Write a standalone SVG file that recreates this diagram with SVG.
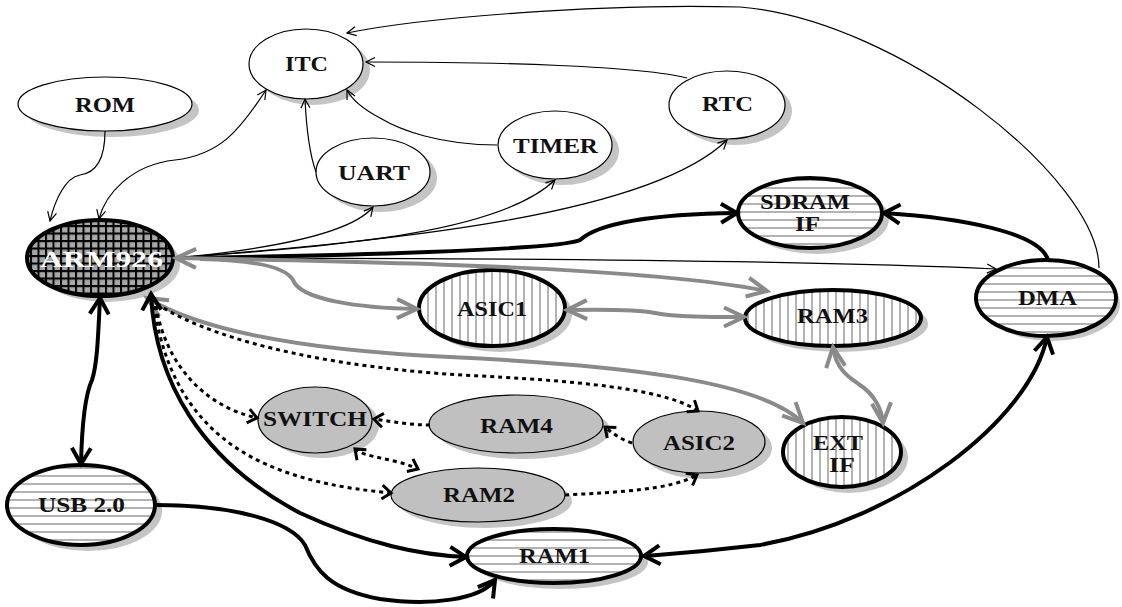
<svg xmlns="http://www.w3.org/2000/svg" width="1122" height="607" viewBox="0 0 1122 607">
<style>
.bg{fill:#fff}
.sh{fill:#c4c4c4}
.thin{stroke:#000;stroke-width:1.2}
.thick{stroke:#000;stroke-width:4}
.white{fill:#fff}
.gfill{fill:#c0c0c0}
.t{font-family:"Liberation Serif","Times New Roman",serif;font-weight:bold;font-size:21px;fill:#111;text-anchor:middle}
.tw{font-family:"Liberation Serif","Times New Roman",serif;font-weight:bold;font-size:24px;fill:#fff;text-anchor:middle}
.c{fill:none}
.cthin{stroke:#000;stroke-width:1.2}
.cblk{stroke:#000;stroke-width:4}
.cgray{stroke:#8a8a8a;stroke-width:4}
.cdot{stroke:#000;stroke-width:3;stroke-dasharray:4 4}
</style>
<defs>
<pattern id="hH" patternUnits="userSpaceOnUse" width="8" height="8"><rect width="8" height="8" fill="#fff"/><line x1="0" y1="4" x2="8" y2="4" stroke="#a0a0a0" stroke-width="1.6"/></pattern>
<pattern id="hV" patternUnits="userSpaceOnUse" width="8" height="8"><rect width="8" height="8" fill="#fff"/><line x1="4" y1="0" x2="4" y2="8" stroke="#a0a0a0" stroke-width="1.6"/></pattern>
<pattern id="grid" patternUnits="userSpaceOnUse" width="7.5" height="7.5"><rect width="7.5" height="7.5" fill="#a8a8a8"/><path d="M0,1 H7.5 M1,0 V7.5" stroke="#000" stroke-width="2"/></pattern>
<marker id="aThin" markerUnits="userSpaceOnUse" markerWidth="12" markerHeight="12" refX="10" refY="6" orient="auto-start-reverse" overflow="visible"><path d="M1,1.5 L10,6 L1,10.5" fill="none" stroke="#000" stroke-width="1.2"/></marker>
<marker id="aBlk" markerUnits="userSpaceOnUse" markerWidth="22" markerHeight="22" refX="18" refY="11" orient="auto-start-reverse" overflow="visible"><path d="M2,1.5 L18,11 L2,20.5" fill="none" stroke="#000" stroke-width="4" stroke-linejoin="miter"/></marker>
<marker id="aGray" markerUnits="userSpaceOnUse" markerWidth="26" markerHeight="22" refX="22" refY="11" orient="auto-start-reverse" overflow="visible"><path d="M2,1.5 L22,11 L2,20.5" fill="none" stroke="#8a8a8a" stroke-width="4"/></marker>
<marker id="aDot" markerUnits="userSpaceOnUse" markerWidth="14" markerHeight="18" refX="11" refY="9" orient="auto-start-reverse" overflow="visible"><path d="M2,2 L11,9 L2,16" fill="none" stroke="#000" stroke-width="3"/></marker>
</defs>
<rect class="bg" x="0" y="0" width="1122" height="607"/>

<g id="node-itc"><ellipse class="sh" cx="313" cy="70" rx="57" ry="35"/><ellipse class="white thin" cx="306" cy="64" rx="57" ry="35"/><text class="t" x="306.5" y="71" textLength="43" lengthAdjust="spacingAndGlyphs">ITC</text></g>
<g id="node-rom"><ellipse class="sh" cx="112" cy="110" rx="87" ry="27"/><ellipse class="white thin" cx="105" cy="104" rx="87" ry="27"/><text class="t" x="105" y="112" textLength="60" lengthAdjust="spacingAndGlyphs">ROM</text></g>
<g id="node-uart"><ellipse class="sh" cx="380" cy="178" rx="57" ry="34"/><ellipse class="white thin" cx="373" cy="172" rx="57" ry="34"/><text class="t" x="374" y="180" textLength="72" lengthAdjust="spacingAndGlyphs">UART</text></g>
<g id="node-timer"><ellipse class="sh" cx="562" cy="151" rx="57" ry="34"/><ellipse class="white thin" cx="555" cy="145" rx="57" ry="34"/><text class="t" x="555.5" y="153" textLength="85" lengthAdjust="spacingAndGlyphs">TIMER</text></g>
<g id="node-rtc"><ellipse class="sh" cx="734" cy="111" rx="58" ry="34"/><ellipse class="white thin" cx="727" cy="105" rx="58" ry="34"/><text class="t" x="727.5" y="111" textLength="51" lengthAdjust="spacingAndGlyphs">RTC</text></g>
<g id="node-sdram"><ellipse class="sh" cx="817" cy="219" rx="72" ry="35"/><ellipse class="thick" fill="url(#hH)" cx="810" cy="213" rx="72" ry="35"/><text class="t" x="805" y="209" textLength="90" lengthAdjust="spacingAndGlyphs">SDRAM</text><text class="t" x="807.5" y="231" textLength="25" lengthAdjust="spacingAndGlyphs">IF</text></g>
<g id="node-dma"><ellipse class="sh" cx="1052" cy="304" rx="68" ry="37"/><ellipse class="thick" fill="url(#hH)" cx="1046" cy="298" rx="70" ry="38"/><text class="t" x="1047.5" y="305" textLength="59" lengthAdjust="spacingAndGlyphs">DMA</text></g>
<g id="node-arm926"><ellipse class="sh" cx="107" cy="264" rx="73" ry="38"/><ellipse class="thick" fill="url(#grid)" cx="100" cy="258" rx="73" ry="38"/><text class="tw" x="101.5" y="267" textLength="123" lengthAdjust="spacingAndGlyphs">ARM926</text></g>
<g id="node-asic1"><ellipse class="sh" cx="499" cy="314" rx="73" ry="38"/><ellipse class="thick" fill="url(#hV)" cx="492" cy="308" rx="73" ry="38"/><text class="t" x="492" y="316" textLength="70" lengthAdjust="spacingAndGlyphs">ASIC1</text></g>
<g id="node-ram3"><ellipse class="sh" cx="840" cy="324" rx="88" ry="28"/><ellipse class="thick" fill="url(#hV)" cx="833" cy="318" rx="88" ry="28"/><text class="t" x="832.5" y="323" textLength="71" lengthAdjust="spacingAndGlyphs">RAM3</text></g>
<g id="node-extif"><ellipse class="sh" cx="849" cy="458" rx="59" ry="35"/><ellipse class="thick" fill="url(#hV)" cx="842" cy="452" rx="59" ry="35"/><text class="t" x="838" y="450" textLength="50" lengthAdjust="spacingAndGlyphs">EXT</text><text class="t" x="842" y="472" textLength="26" lengthAdjust="spacingAndGlyphs">IF</text></g>
<g id="node-switch"><ellipse class="sh" cx="322" cy="425" rx="57" ry="33"/><ellipse class="gfill thin" cx="315" cy="420" rx="57" ry="33"/><text class="t" x="315" y="426" textLength="104" lengthAdjust="spacingAndGlyphs">SWITCH</text></g>
<g id="node-ram4"><ellipse class="sh" cx="523" cy="430" rx="87" ry="29"/><ellipse class="gfill thin" cx="516" cy="424" rx="87" ry="29"/><text class="t" x="516.5" y="433" textLength="73" lengthAdjust="spacingAndGlyphs">RAM4</text></g>
<g id="node-asic2"><ellipse class="sh" cx="706" cy="448" rx="66" ry="31"/><ellipse class="gfill thin" cx="699" cy="442" rx="66" ry="31"/><text class="t" x="699" y="450" textLength="72" lengthAdjust="spacingAndGlyphs">ASIC2</text></g>
<g id="node-ram2"><ellipse class="sh" cx="485" cy="501" rx="87" ry="27"/><ellipse class="gfill thin" cx="478" cy="495" rx="87" ry="27"/><text class="t" x="479" y="502" textLength="72" lengthAdjust="spacingAndGlyphs">RAM2</text></g>
<g id="node-ram1"><ellipse class="sh" cx="561" cy="562" rx="87" ry="27"/><ellipse class="thick" fill="url(#hH)" cx="554" cy="556" rx="87" ry="27"/><text class="t" x="554.5" y="563" textLength="71" lengthAdjust="spacingAndGlyphs">RAM1</text></g>
<g id="node-usb"><ellipse class="sh" cx="88" cy="511" rx="74" ry="40"/><ellipse class="thick" fill="url(#hH)" cx="81" cy="505" rx="74" ry="40"/><text class="t" x="81.5" y="512" textLength="87" lengthAdjust="spacingAndGlyphs">USB 2.0</text></g>

<g id="connectors" class="c">
<path class="c cthin" marker-end="url(#aThin)" d="M105,131 C105,160 95,173 80,175 C65,178 55,200 50,221"/>
<path class="c cthin" marker-start="url(#aThin)" marker-end="url(#aThin)" d="M266,90 C240,130 220,155 175,160 C130,165 105,195 99,219"/>
<path class="c cthin" marker-end="url(#aThin)" d="M316,172 C308,150 306,120 305,99"/>
<path class="c cthin" marker-end="url(#aThin)" d="M497,145 C440,145 400,130 380,118 C365,110 352,100 347,90"/>
<path class="c cthin" marker-end="url(#aThin)" d="M687,78 C640,66 500,62 366,62"/>
<path class="c cthin" marker-end="url(#aThin)" d="M1099,268 C1099,180 900,20 740,7 C600,3 420,18 347,33"/>
<path class="c cthin" marker-end="url(#aThin)" d="M175,258 C260,250 350,235 373,207"/>
<path class="c cthin" marker-end="url(#aThin)" d="M175,258 C350,245 500,232 555,180"/>
<path class="c cthin" marker-end="url(#aThin)" d="M175,258 C400,240 650,215 727,140"/>
<path class="c cthin" marker-end="url(#aThin)" d="M175,258 C500,258 800,260 996,269"/>
<path class="c cblk" marker-end="url(#aBlk)" d="M176,258 C330,256 560,250 580,240 C600,222 660,214 737,213"/>
<path class="c cblk" marker-end="url(#aBlk)" d="M1048,260 C1040,232 960,218 884,213"/>
<path class="c cgray" marker-start="url(#aGray)" marker-end="url(#aGray)" d="M176,258 C400,262 650,268 767,291"/>
<path class="c cgray" marker-end="url(#aGray)" d="M200,259 C250,260 285,266 293,280 C300,300 360,308 417,309"/>
<path class="c cgray" marker-start="url(#aGray)" marker-end="url(#aGray)" d="M567,310 C620,309 640,310 655,313 C675,317 710,317 744,317"/>
<path class="c cgray" marker-start="url(#aGray)" marker-end="url(#aGray)" d="M833,347 C836,370 850,378 860,385 C875,395 882,410 883,423"/>
<path class="c cgray" marker-start="url(#aGray)" marker-end="url(#aGray)" d="M147,298 C200,330 300,350 450,357 C620,365 760,380 803,423"/>
<path class="c cdot" marker-end="url(#aDot)" d="M157,304 C220,345 350,370 480,376 C600,382 670,392 698,411"/>
<path class="c cdot" marker-end="url(#aDot)" d="M156,306 C165,360 200,405 257,418"/>
<path class="c cdot" marker-end="url(#aDot)" d="M154,306 C165,380 200,440 280,470 C320,485 360,490 391,493"/>
<path class="c cdot" marker-end="url(#aDot)" d="M430,425 C410,425 395,422 374,419"/>
<path class="c cdot" marker-end="url(#aDot)" d="M632,443 C622,440 612,433 605,427"/>
<path class="c cdot" marker-start="url(#aDot)" marker-end="url(#aDot)" d="M355,449 C365,458 395,458 418,469"/>
<path class="c cdot" marker-end="url(#aDot)" d="M565,495 C620,492 670,490 697,475"/>
<path class="c cblk" marker-start="url(#aBlk)" marker-end="url(#aBlk)" d="M151,294 C155,380 200,460 300,513 C370,545 420,555 466,557"/>
<path class="c cblk" marker-start="url(#aBlk)" marker-end="url(#aBlk)" d="M100,298 C98,340 97,365 92,380 C85,395 82,420 81,464"/>
<path class="c cblk" marker-end="url(#aBlk)" d="M156,505 C230,505 290,520 305,545 C315,570 330,590 380,599 C430,606 480,600 495,580"/>
<path class="c cblk" marker-start="url(#aBlk)" marker-end="url(#aBlk)" d="M1047,337 C1030,420 900,520 760,545 C700,552 670,554 644,556"/>
</g>
</svg>
